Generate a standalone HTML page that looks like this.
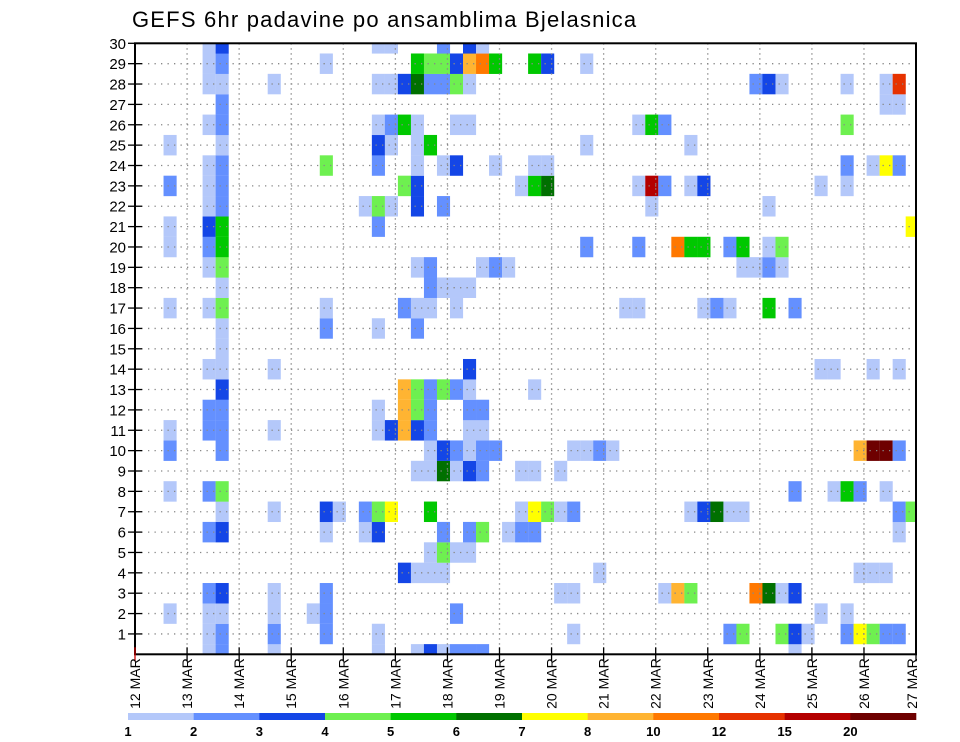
<!DOCTYPE html>
<html><head><meta charset="utf-8"><style>
body{margin:0;background:#fff;}
svg{display:block;font-family:"Liberation Sans",sans-serif;}
</style></head><body>
<svg id="chart" width="960" height="742" viewBox="0 0 960 742">
<text x="132" y="27" font-size="22" letter-spacing="1.2" fill="#000">GEFS 6hr padavine po ansamblima Bjelasnica</text>
<defs><clipPath id="pc"><rect x="135" y="43.3" width="781" height="611"/></clipPath></defs>
<g id="cells" clip-path="url(#pc)"></g>
<g id="grid"></g>
<rect x="135" y="43.3" width="781" height="611" fill="none" stroke="#000" stroke-width="2"/>
<g id="axes"></g>
<g id="legend"></g>
</svg>
<script>
// x categories: 6-hourly steps starting 12 MAR 00z; y: ensemble members 0..30
const dayLabels = ["12 MAR","13 MAR","14 MAR","15 MAR","16 MAR","17 MAR","18 MAR","19 MAR","20 MAR","21 MAR","22 MAR","23 MAR","24 MAR","25 MAR","26 MAR","27 MAR"];
const memberTicks = [1,2,3,4,5,6,7,8,9,10,11,12,13,14,15,16,17,18,19,20,21,22,23,24,25,26,27,28,29,30];
const legendLabels = ["1","2","3","4","5","6","7","8","10","12","15","20"];
const levelColors = ["#b4c8fa","#6490ff","#1446e6","#6ef050","#00c800","#007000","#ffff00","#ffb432","#ff7800","#e63200","#b40000","#6e0000"];
// per member (index = member 0..30): "timeStep:level" entries
const memberCells = [
 "5:1 6:2 10:1 18:1 21:1 22:3 23:1 24:2 25:2 26:2 50:1",
 "5:1 6:2 10:2 14:2 18:1 33:1 45:2 46:4 49:4 50:3 51:1 54:2 55:7 56:4 57:2 58:2",
 "2:1 5:1 6:1 10:1 13:1 14:2 24:2 52:1 54:1",
 "5:2 6:3 10:1 14:2 32:1 33:1 40:1 41:8 42:4 47:9 48:6 49:1 50:3",
 "20:3 21:1 22:1 23:1 35:1 55:1 56:1 57:1",
 "22:1 23:4 24:1 25:1",
 "5:2 6:3 14:1 17:1 18:3 23:2 25:2 26:4 28:1 29:2 30:2 58:1",
 "6:1 10:1 14:3 15:1 17:2 18:4 19:7 22:5 29:1 30:7 31:4 32:1 33:2 42:1 43:3 44:6 45:1 46:1 58:2 59:4",
 "2:1 5:2 6:4 50:2 53:1 54:5 55:2 57:1",
 "21:1 22:1 23:6 24:1 25:3 26:2 29:1 30:1 32:1",
 "2:2 6:2 22:1 23:3 24:2 25:1 26:2 27:2 33:1 34:1 35:2 36:1 55:8 56:12 57:12 58:2",
 "2:1 5:2 6:2 10:1 18:1 19:3 20:8 21:3 22:2 25:1 26:1",
 "5:2 6:2 18:1 20:8 21:4 22:2 25:2 26:2",
 "6:3 20:8 21:4 22:2 23:4 24:2 25:1 30:1",
 "5:1 6:1 10:1 25:3 52:1 53:1 56:1 58:1",
 "6:1",
 "6:1 14:2 18:1 21:2",
 "2:1 5:1 6:4 14:1 20:2 21:1 22:1 24:1 37:1 38:1 43:1 44:2 45:1 48:5 50:2",
 "6:1 22:2 23:1 24:1 25:1",
 "5:1 6:4 21:1 22:2 26:1 27:2 28:1 46:1 47:1 48:2 49:1",
 "2:1 5:2 6:5 34:2 38:2 41:9 42:5 43:5 45:2 46:5 48:1 49:4",
 "2:1 5:3 6:5 18:2 59:7",
 "5:1 6:2 17:1 18:4 19:1 21:3 23:2 39:1 48:1",
 "2:2 5:1 6:2 20:4 21:3 29:1 30:5 31:6 38:1 39:11 40:2 42:1 43:3 52:1 54:1",
 "5:1 6:2 14:4 18:2 21:1 23:1 24:3 27:1 30:1 31:1 54:2 56:1 57:7 58:2",
 "2:1 6:1 18:3 19:1 21:1 22:5 34:1 42:1",
 "5:1 6:2 18:1 19:2 20:5 21:1 24:1 25:1 38:1 39:5 40:2 54:4",
 "6:2 57:1 58:1",
 "5:1 6:1 10:1 18:1 19:1 20:3 21:6 22:2 23:2 24:4 25:1 47:2 48:3 49:1 54:1 57:1 58:10",
 "5:1 6:2 14:1 21:5 22:4 23:4 24:3 25:8 26:9 27:5 30:5 31:3 34:1",
 "5:1 6:3 18:1 19:1 23:2 25:3 26:1"
];
const NS="http://www.w3.org/2000/svg";
const X0=135, X1=916, Y0=654.3, Y1=43.3, NSTEP=60;
const stepW=(X1-X0)/NSTEP*1.0; // ~13px per 6h
const rowH=(Y0-Y1)/30;
function xStep(s){return X0+2.5+s*13.02;}
function xDay(d){return X0+d*52.07;}
function yMem(m){return Y0-m*rowH;}
function mk(tag,attrs,parent){const e=document.createElementNS(NS,tag);for(const k in attrs)e.setAttribute(k,attrs[k]);parent.appendChild(e);return e;}
const gc=document.getElementById('cells');
memberCells.forEach((str,m)=>{
  str.split(' ').forEach(tok=>{
    if(!tok)return;
    const [s,l]=tok.split(':').map(Number);
    const r=mk('rect',{x:xStep(s),y:yMem(m)-rowH/2,width:13.1,height:rowH+0.1,fill:levelColors[l-1]},gc);
    
    
  });
});
const gg=document.getElementById('grid');
memberTicks.forEach(m=>{ if(m<30){const l=mk('line',{x1:X0,x2:X1,y1:yMem(m),y2:yMem(m),stroke:'#888','stroke-width':1.3,'stroke-dasharray':'1.3,5.2'},gg);
 
 }});
dayLabels.forEach((d,i)=>{ if(i>0&&i<dayLabels.length-1){const l=mk('line',{x1:xDay(i),x2:xDay(i),y1:Y1,y2:Y0,stroke:'#888','stroke-width':1.3,'stroke-dasharray':'1.3,3.7'},gg);
 
 }});
const ga=document.getElementById('axes');
memberTicks.forEach(m=>{
  const t=mk('line',{x1:X0-7,x2:X0+7,y1:yMem(m),y2:yMem(m),stroke:'#000','stroke-width':1.3},ga);
  
  
  const tx=mk('text',{x:126,y:yMem(m)+5.5,'text-anchor':'end','font-size':15,fill:'#000'},ga);
  tx.textContent=m;
  
  
});
dayLabels.forEach((d,i)=>{
  const x=Math.min(xDay(i),X1);
  const t=mk('line',{x1:x,x2:x,y1:Y0-7,y2:Y0+7,stroke:i==0?'#c00':'#000','stroke-width':1.3},ga);
  
  
  const tx=mk('text',{x:0,y:0,'text-anchor':'end','font-size':14,fill:'#000',transform:'translate('+(Math.min(x,X1-4)+5)+','+(Y0+4)+') rotate(-90)'},ga);
  tx.textContent=d;
  
  
});
const gl=document.getElementById('legend');
const LX0=128, LX1=916, LW=(LX1-LX0)/levelColors.length;
levelColors.forEach((c,i)=>{
  const r=mk('rect',{x:LX0+i*LW,y:713,width:LW+0.3,height:7,fill:c},gl);
  
  
  const tx=mk('text',{x:LX0+i*LW,y:736,'text-anchor':'middle','font-size':13,'font-weight':'bold',fill:'#000'},gl);
  tx.textContent=legendLabels[i];
  
  
});
</script>
</body></html>
